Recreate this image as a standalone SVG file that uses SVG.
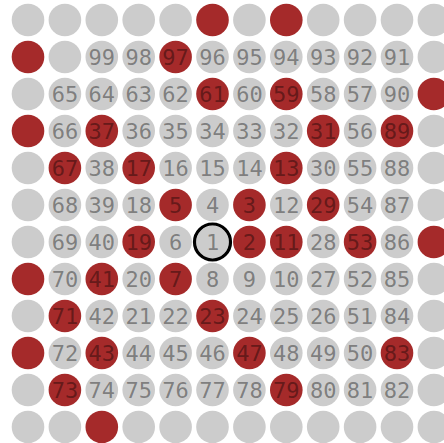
<svg xmlns="http://www.w3.org/2000/svg" width="444" height="443" viewBox="0 0 444 443">
<style>
.g{fill:#cccccc}
.p{fill:#a52a2a}
text{font-family:"DejaVu Sans Mono","Liberation Mono",monospace;font-size:22px;fill:#000;fill-opacity:0.4;text-anchor:middle}
.ring{fill:none;stroke:#000;stroke-width:3.2}
</style>
<rect width="444" height="443" fill="#ffffff"/>
<g id="nodes">
<!-- row 0 -->
<g id="n144" transform="translate(28,20)"><circle r="16.3" class="g"/></g>
<g id="n143" transform="translate(64.9,20)"><circle r="16.3" class="g"/></g>
<g id="n142" transform="translate(101.8,20)"><circle r="16.3" class="g"/></g>
<g id="n141" transform="translate(138.7,20)"><circle r="16.3" class="g"/></g>
<g id="n140" transform="translate(175.6,20)"><circle r="16.3" class="g"/></g>
<g id="n139" transform="translate(212.5,20)"><circle r="16.3" class="p"/></g>
<g id="n138" transform="translate(249.4,20)"><circle r="16.3" class="g"/></g>
<g id="n137" transform="translate(286.3,20)"><circle r="16.3" class="p"/></g>
<g id="n136" transform="translate(323.2,20)"><circle r="16.3" class="g"/></g>
<g id="n135" transform="translate(360.1,20)"><circle r="16.3" class="g"/></g>
<g id="n134" transform="translate(397,20)"><circle r="16.3" class="g"/></g>
<g id="n133" transform="translate(433.9,20)"><circle r="16.3" class="g"/></g>
<!-- row 1 -->
<g id="n101" transform="translate(28,57)"><circle r="16.3" class="p"/></g>
<g id="n100" transform="translate(64.9,57)"><circle r="16.3" class="g"/></g>
<g id="n99" transform="translate(101.8,57)"><circle r="16.3" class="g"/><text y="8">99</text></g>
<g id="n98" transform="translate(138.7,57)"><circle r="16.3" class="g"/><text y="8">98</text></g>
<g id="n97" transform="translate(175.6,57)"><circle r="16.3" class="p"/><text y="8">97</text></g>
<g id="n96" transform="translate(212.5,57)"><circle r="16.3" class="g"/><text y="8">96</text></g>
<g id="n95" transform="translate(249.4,57)"><circle r="16.3" class="g"/><text y="8">95</text></g>
<g id="n94" transform="translate(286.3,57)"><circle r="16.3" class="g"/><text y="8">94</text></g>
<g id="n93" transform="translate(323.2,57)"><circle r="16.3" class="g"/><text y="8">93</text></g>
<g id="n92" transform="translate(360.1,57)"><circle r="16.3" class="g"/><text y="8">92</text></g>
<g id="n91" transform="translate(397,57)"><circle r="16.3" class="g"/><text y="8">91</text></g>
<g id="n132" transform="translate(433.9,57)"><circle r="16.3" class="g"/></g>
<!-- row 2 -->
<g id="n102" transform="translate(28,94)"><circle r="16.3" class="g"/></g>
<g id="n65" transform="translate(64.9,94)"><circle r="16.3" class="g"/><text y="8">65</text></g>
<g id="n64" transform="translate(101.8,94)"><circle r="16.3" class="g"/><text y="8">64</text></g>
<g id="n63" transform="translate(138.7,94)"><circle r="16.3" class="g"/><text y="8">63</text></g>
<g id="n62" transform="translate(175.6,94)"><circle r="16.3" class="g"/><text y="8">62</text></g>
<g id="n61" transform="translate(212.5,94)"><circle r="16.3" class="p"/><text y="8">61</text></g>
<g id="n60" transform="translate(249.4,94)"><circle r="16.3" class="g"/><text y="8">60</text></g>
<g id="n59" transform="translate(286.3,94)"><circle r="16.3" class="p"/><text y="8">59</text></g>
<g id="n58" transform="translate(323.2,94)"><circle r="16.3" class="g"/><text y="8">58</text></g>
<g id="n57" transform="translate(360.1,94)"><circle r="16.3" class="g"/><text y="8">57</text></g>
<g id="n90" transform="translate(397,94)"><circle r="16.3" class="g"/><text y="8">90</text></g>
<g id="n131" transform="translate(433.9,94)"><circle r="16.3" class="p"/></g>
<!-- row 3 -->
<g id="n103" transform="translate(28,131)"><circle r="16.3" class="p"/></g>
<g id="n66" transform="translate(64.9,131)"><circle r="16.3" class="g"/><text y="8">66</text></g>
<g id="n37" transform="translate(101.8,131)"><circle r="16.3" class="p"/><text y="8">37</text></g>
<g id="n36" transform="translate(138.7,131)"><circle r="16.3" class="g"/><text y="8">36</text></g>
<g id="n35" transform="translate(175.6,131)"><circle r="16.3" class="g"/><text y="8">35</text></g>
<g id="n34" transform="translate(212.5,131)"><circle r="16.3" class="g"/><text y="8">34</text></g>
<g id="n33" transform="translate(249.4,131)"><circle r="16.3" class="g"/><text y="8">33</text></g>
<g id="n32" transform="translate(286.3,131)"><circle r="16.3" class="g"/><text y="8">32</text></g>
<g id="n31" transform="translate(323.2,131)"><circle r="16.3" class="p"/><text y="8">31</text></g>
<g id="n56" transform="translate(360.1,131)"><circle r="16.3" class="g"/><text y="8">56</text></g>
<g id="n89" transform="translate(397,131)"><circle r="16.3" class="p"/><text y="8">89</text></g>
<g id="n130" transform="translate(433.9,131)"><circle r="16.3" class="g"/></g>
<!-- row 4 -->
<g id="n104" transform="translate(28,168)"><circle r="16.3" class="g"/></g>
<g id="n67" transform="translate(64.9,168)"><circle r="16.3" class="p"/><text y="8">67</text></g>
<g id="n38" transform="translate(101.8,168)"><circle r="16.3" class="g"/><text y="8">38</text></g>
<g id="n17" transform="translate(138.7,168)"><circle r="16.3" class="p"/><text y="8">17</text></g>
<g id="n16" transform="translate(175.6,168)"><circle r="16.3" class="g"/><text y="8">16</text></g>
<g id="n15" transform="translate(212.5,168)"><circle r="16.3" class="g"/><text y="8">15</text></g>
<g id="n14" transform="translate(249.4,168)"><circle r="16.3" class="g"/><text y="8">14</text></g>
<g id="n13" transform="translate(286.3,168)"><circle r="16.3" class="p"/><text y="8">13</text></g>
<g id="n30" transform="translate(323.2,168)"><circle r="16.3" class="g"/><text y="8">30</text></g>
<g id="n55" transform="translate(360.1,168)"><circle r="16.3" class="g"/><text y="8">55</text></g>
<g id="n88" transform="translate(397,168)"><circle r="16.3" class="g"/><text y="8">88</text></g>
<g id="n129" transform="translate(433.9,168)"><circle r="16.3" class="g"/></g>
<!-- row 5 -->
<g id="n105" transform="translate(28,205)"><circle r="16.3" class="g"/></g>
<g id="n68" transform="translate(64.9,205)"><circle r="16.3" class="g"/><text y="8">68</text></g>
<g id="n39" transform="translate(101.8,205)"><circle r="16.3" class="g"/><text y="8">39</text></g>
<g id="n18" transform="translate(138.7,205)"><circle r="16.3" class="g"/><text y="8">18</text></g>
<g id="n5" transform="translate(175.6,205)"><circle r="16.3" class="p"/><text y="8">5</text></g>
<g id="n4" transform="translate(212.5,205)"><circle r="16.3" class="g"/><text y="8">4</text></g>
<g id="n3" transform="translate(249.4,205)"><circle r="16.3" class="p"/><text y="8">3</text></g>
<g id="n12" transform="translate(286.3,205)"><circle r="16.3" class="g"/><text y="8">12</text></g>
<g id="n29" transform="translate(323.2,205)"><circle r="16.3" class="p"/><text y="8">29</text></g>
<g id="n54" transform="translate(360.1,205)"><circle r="16.3" class="g"/><text y="8">54</text></g>
<g id="n87" transform="translate(397,205)"><circle r="16.3" class="g"/><text y="8">87</text></g>
<g id="n128" transform="translate(433.9,205)"><circle r="16.3" class="g"/></g>
<!-- row 6 -->
<g id="n106" transform="translate(28,242)"><circle r="16.3" class="g"/></g>
<g id="n69" transform="translate(64.9,242)"><circle r="16.3" class="g"/><text y="8">69</text></g>
<g id="n40" transform="translate(101.8,242)"><circle r="16.3" class="g"/><text y="8">40</text></g>
<g id="n19" transform="translate(138.7,242)"><circle r="16.3" class="p"/><text y="8">19</text></g>
<g id="n6" transform="translate(175.6,242)"><circle r="16.3" class="g"/><text y="8">6</text></g>
<g id="n1" transform="translate(212.5,242)"><circle r="16.3" class="g"/><circle r="18" class="ring"/><text y="8">1</text></g>
<g id="n2" transform="translate(249.4,242)"><circle r="16.3" class="p"/><text y="8">2</text></g>
<g id="n11" transform="translate(286.3,242)"><circle r="16.3" class="p"/><text y="8">11</text></g>
<g id="n28" transform="translate(323.2,242)"><circle r="16.3" class="g"/><text y="8">28</text></g>
<g id="n53" transform="translate(360.1,242)"><circle r="16.3" class="p"/><text y="8">53</text></g>
<g id="n86" transform="translate(397,242)"><circle r="16.3" class="g"/><text y="8">86</text></g>
<g id="n127" transform="translate(433.9,242)"><circle r="16.3" class="p"/></g>
<!-- row 7 -->
<g id="n107" transform="translate(28,279)"><circle r="16.3" class="p"/></g>
<g id="n70" transform="translate(64.9,279)"><circle r="16.3" class="g"/><text y="8">70</text></g>
<g id="n41" transform="translate(101.8,279)"><circle r="16.3" class="p"/><text y="8">41</text></g>
<g id="n20" transform="translate(138.7,279)"><circle r="16.3" class="g"/><text y="8">20</text></g>
<g id="n7" transform="translate(175.6,279)"><circle r="16.3" class="p"/><text y="8">7</text></g>
<g id="n8" transform="translate(212.5,279)"><circle r="16.3" class="g"/><text y="8">8</text></g>
<g id="n9" transform="translate(249.4,279)"><circle r="16.3" class="g"/><text y="8">9</text></g>
<g id="n10" transform="translate(286.3,279)"><circle r="16.3" class="g"/><text y="8">10</text></g>
<g id="n27" transform="translate(323.2,279)"><circle r="16.3" class="g"/><text y="8">27</text></g>
<g id="n52" transform="translate(360.1,279)"><circle r="16.3" class="g"/><text y="8">52</text></g>
<g id="n85" transform="translate(397,279)"><circle r="16.3" class="g"/><text y="8">85</text></g>
<g id="n126" transform="translate(433.9,279)"><circle r="16.3" class="g"/></g>
<!-- row 8 -->
<g id="n108" transform="translate(28,316)"><circle r="16.3" class="g"/></g>
<g id="n71" transform="translate(64.9,316)"><circle r="16.3" class="p"/><text y="8">71</text></g>
<g id="n42" transform="translate(101.8,316)"><circle r="16.3" class="g"/><text y="8">42</text></g>
<g id="n21" transform="translate(138.7,316)"><circle r="16.3" class="g"/><text y="8">21</text></g>
<g id="n22" transform="translate(175.6,316)"><circle r="16.3" class="g"/><text y="8">22</text></g>
<g id="n23" transform="translate(212.5,316)"><circle r="16.3" class="p"/><text y="8">23</text></g>
<g id="n24" transform="translate(249.4,316)"><circle r="16.3" class="g"/><text y="8">24</text></g>
<g id="n25" transform="translate(286.3,316)"><circle r="16.3" class="g"/><text y="8">25</text></g>
<g id="n26" transform="translate(323.2,316)"><circle r="16.3" class="g"/><text y="8">26</text></g>
<g id="n51" transform="translate(360.1,316)"><circle r="16.3" class="g"/><text y="8">51</text></g>
<g id="n84" transform="translate(397,316)"><circle r="16.3" class="g"/><text y="8">84</text></g>
<g id="n125" transform="translate(433.9,316)"><circle r="16.3" class="g"/></g>
<!-- row 9 -->
<g id="n109" transform="translate(28,353)"><circle r="16.3" class="p"/></g>
<g id="n72" transform="translate(64.9,353)"><circle r="16.3" class="g"/><text y="8">72</text></g>
<g id="n43" transform="translate(101.8,353)"><circle r="16.3" class="p"/><text y="8">43</text></g>
<g id="n44" transform="translate(138.7,353)"><circle r="16.3" class="g"/><text y="8">44</text></g>
<g id="n45" transform="translate(175.6,353)"><circle r="16.3" class="g"/><text y="8">45</text></g>
<g id="n46" transform="translate(212.5,353)"><circle r="16.3" class="g"/><text y="8">46</text></g>
<g id="n47" transform="translate(249.4,353)"><circle r="16.3" class="p"/><text y="8">47</text></g>
<g id="n48" transform="translate(286.3,353)"><circle r="16.3" class="g"/><text y="8">48</text></g>
<g id="n49" transform="translate(323.2,353)"><circle r="16.3" class="g"/><text y="8">49</text></g>
<g id="n50" transform="translate(360.1,353)"><circle r="16.3" class="g"/><text y="8">50</text></g>
<g id="n83" transform="translate(397,353)"><circle r="16.3" class="p"/><text y="8">83</text></g>
<g id="n124" transform="translate(433.9,353)"><circle r="16.3" class="g"/></g>
<!-- row 10 -->
<g id="n110" transform="translate(28,390)"><circle r="16.3" class="g"/></g>
<g id="n73" transform="translate(64.9,390)"><circle r="16.3" class="p"/><text y="8">73</text></g>
<g id="n74" transform="translate(101.8,390)"><circle r="16.3" class="g"/><text y="8">74</text></g>
<g id="n75" transform="translate(138.7,390)"><circle r="16.3" class="g"/><text y="8">75</text></g>
<g id="n76" transform="translate(175.6,390)"><circle r="16.3" class="g"/><text y="8">76</text></g>
<g id="n77" transform="translate(212.5,390)"><circle r="16.3" class="g"/><text y="8">77</text></g>
<g id="n78" transform="translate(249.4,390)"><circle r="16.3" class="g"/><text y="8">78</text></g>
<g id="n79" transform="translate(286.3,390)"><circle r="16.3" class="p"/><text y="8">79</text></g>
<g id="n80" transform="translate(323.2,390)"><circle r="16.3" class="g"/><text y="8">80</text></g>
<g id="n81" transform="translate(360.1,390)"><circle r="16.3" class="g"/><text y="8">81</text></g>
<g id="n82" transform="translate(397,390)"><circle r="16.3" class="g"/><text y="8">82</text></g>
<g id="n123" transform="translate(433.9,390)"><circle r="16.3" class="g"/></g>
<!-- row 11 -->
<g id="n111" transform="translate(28,427)"><circle r="16.3" class="g"/></g>
<g id="n112" transform="translate(64.9,427)"><circle r="16.3" class="g"/></g>
<g id="n113" transform="translate(101.8,427)"><circle r="16.3" class="p"/></g>
<g id="n114" transform="translate(138.7,427)"><circle r="16.3" class="g"/></g>
<g id="n115" transform="translate(175.6,427)"><circle r="16.3" class="g"/></g>
<g id="n116" transform="translate(212.5,427)"><circle r="16.3" class="g"/></g>
<g id="n117" transform="translate(249.4,427)"><circle r="16.3" class="g"/></g>
<g id="n118" transform="translate(286.3,427)"><circle r="16.3" class="g"/></g>
<g id="n119" transform="translate(323.2,427)"><circle r="16.3" class="g"/></g>
<g id="n120" transform="translate(360.1,427)"><circle r="16.3" class="g"/></g>
<g id="n121" transform="translate(397,427)"><circle r="16.3" class="g"/></g>
<g id="n122" transform="translate(433.9,427)"><circle r="16.3" class="g"/></g>
</g>
</svg>
